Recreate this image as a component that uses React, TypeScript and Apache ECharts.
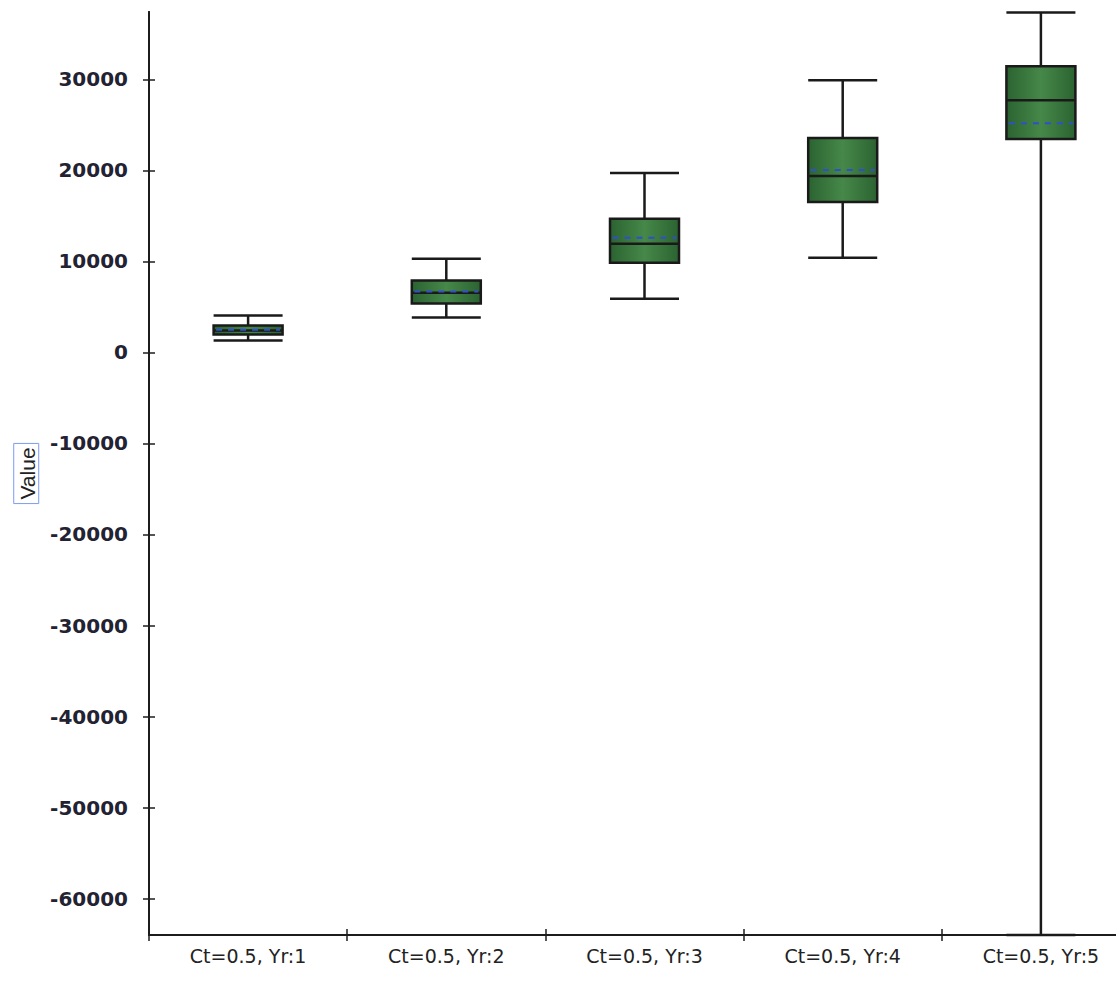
import React, { useEffect, useRef } from "react";
import * as echarts from "echarts";

const categories = ["Ct=0.5, Yr:1", "Ct=0.5, Yr:2", "Ct=0.5, Yr:3", "Ct=0.5, Yr:4", "Ct=0.5, Yr:5"];
// [lower whisker, Q1, median, Q3, upper whisker]
const lowWhisker = [1310, 3830, 5910, 10400, -64000];
const q1 = [1970, 5370, 9860, 16540, 23440];
const medians = [2410, 6570, 11940, 19390, 27710];
const q3 = [2960, 7890, 14680, 23550, 31430];
const highWhisker = [4050, 10300, 19720, 29900, 37350];
const means = [2500, 6700, 12600, 20040, 25190];
const yTicks = [-60000, -50000, -40000, -30000, -20000, -10000, 0, 10000, 20000, 30000];
const yMin = -64000;
const yMax = 37400;

export default function App() {
  const ref = useRef<HTMLDivElement>(null);
  useEffect(() => {
    if (!ref.current) return;
    const chart = echarts.init(ref.current, undefined, { renderer: "svg" });
    const boxData = categories.map((_, i) => [lowWhisker[i], q1[i], medians[i], q3[i], highWhisker[i]]);
    const meanData = categories.map((_, i) => [i, means[i]]);
    const fill = new echarts.graphic.LinearGradient(0, 0, 1, 0, [
      { offset: 0, color: "#2b6331" },
      { offset: 0.5, color: "#468849" },
      { offset: 1, color: "#2b6331" },
    ]);
    const axisColor = "#1c1c1c";
    chart.setOption({
      animation: false,
      backgroundColor: "#ffffff",
      grid: { left: 149, top: 12, bottom: 46, width: 991, containLabel: false, outerBoundsMode: "none" },
      xAxis: [
        {
          type: "category",
          data: categories,
          boundaryGap: true,
          position: "bottom",
          axisLine: { onZero: false, lineStyle: { color: axisColor, width: 2 } },
          axisTick: { show: true, length: 6, lineStyle: { color: axisColor, width: 1.5 } },
          axisLabel: { color: "#222222", fontFamily: "DejaVu Sans", fontSize: 19, margin: 11 },
          splitLine: { show: false },
        },
        {
          type: "category",
          data: categories,
          position: "bottom",
          boundaryGap: true,
          axisLine: { show: true, onZero: false, lineStyle: { color: axisColor, width: 2 } },
          axisTick: { show: true, inside: true, length: 6, lineStyle: { color: axisColor, width: 1.5 } },
          axisLabel: { show: false },
          splitLine: { show: false },
        },
      ],
      yAxis: [
        {
          type: "value",
          min: yMin,
          max: yMax,
          position: "left",
          name: "Value",
          nameLocation: "middle",
          nameGap: 104,
          nameTextStyle: {
            color: "#222222",
            fontFamily: "Liberation Sans",
            fontSize: 21,
            borderColor: "#7b9cf0",
            borderWidth: 1,
            padding: [3, 4, 1, 4],
          },
          axisLine: { show: true, onZero: false, lineStyle: { color: axisColor, width: 2 } },
          axisTick: { show: true, length: 6, customValues: yTicks, lineStyle: { color: axisColor, width: 1.5 } },
          axisLabel: {
            customValues: yTicks,
            formatter: (v: number) => String(v),
            color: "#222233",
            fontFamily: "DejaVu Sans",
            fontWeight: "bold",
            fontSize: 20,
            margin: 21,
          },
          splitLine: { show: false },
        },
        {
          type: "value",
          min: yMin,
          max: yMax,
          position: "left",
          axisLine: { show: true, onZero: false, lineStyle: { color: axisColor, width: 2 } },
          axisTick: { show: true, inside: true, length: 6, customValues: yTicks, lineStyle: { color: axisColor, width: 1.5 } },
          axisLabel: { show: false },
          splitLine: { show: false },
        },
      ],
      series: [
        {
          type: "boxplot",
          data: boxData,
          boxWidth: [69, 69],
          itemStyle: { color: fill, borderColor: "#1a1a1a", borderWidth: 2.5 },
          emphasis: { disabled: true },
          z: 2,
        },
        {
          type: "custom",
          data: meanData,
          z: 3,
          renderItem: (params: any, api: any) => {
            const p = api.coord([api.value(0), api.value(1)]);
            const half = 32;
            return {
              type: "line",
              shape: { x1: p[0] - half, y1: p[1], x2: p[0] + half, y2: p[1] },
              style: { stroke: "#2f4fcf", lineWidth: 2, lineDash: [6, 6] },
            };
          },
        },
      ],
    });
    return () => chart.dispose();
  }, []);
  return <div ref={ref} style={{ position: "absolute", left: 0, top: 0, width: 1116, height: 981 }} />;
}
